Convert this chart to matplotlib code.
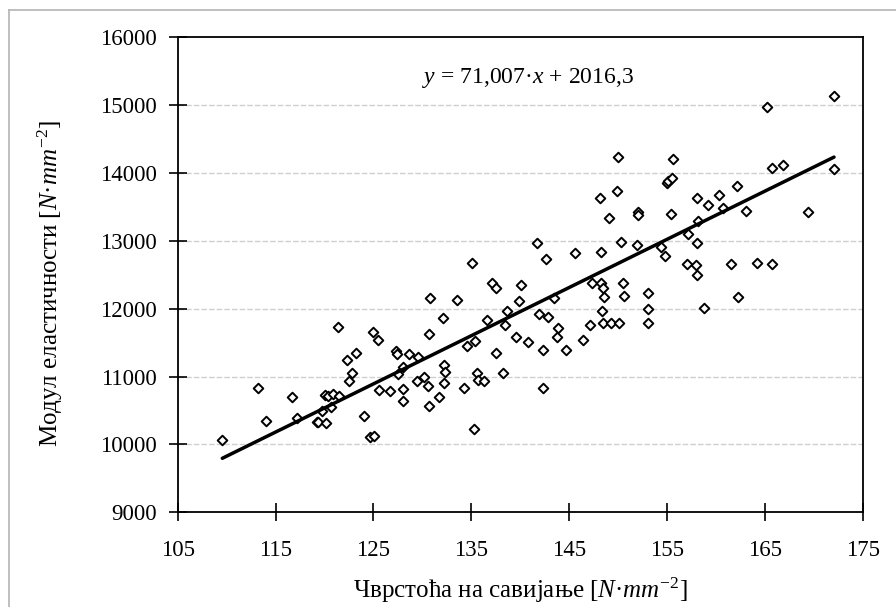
import matplotlib
matplotlib.use("Agg")
import matplotlib.pyplot as plt
from matplotlib.lines import Line2D

# ---- data ----
strength = [109.56, 113.18, 114.02, 116.68, 117.16, 119.2, 119.34, 120.15, 120.05, 120.39,
            120.84, 121.51, 119.78, 120.63, 121.35, 122.27, 123.19, 122.84, 122.5, 124.04,
            124.65, 125.09, 124.99, 125.44, 125.57, 126.66, 127.31, 127.38,
            127.55, 127.99, 128.05, 128.05, 128.64, 129.59, 129.48, 130.17, 130.61, 130.71,
            130.78, 130.71, 131.73, 132.14, 132.21, 132.31, 132.21, 133.57, 134.26, 134.6,
            135.04, 135.38, 135.31, 135.62, 135.72, 136.33, 136.58, 137.09, 137.53, 137.53,
            138.27, 138.45, 138.62, 139.54, 139.88, 140.11, 140.77, 141.69, 141.95, 142.36,
            142.36, 142.6, 142.87, 143.45, 143.83, 143.76, 144.65, 145.6, 146.39, 147.13,
            147.3, 148.22, 148.26, 148.49, 148.59, 148.33, 148.49, 149.25, 150.06, 150.3,
            150.47, 150.64,
            148.15, 149.1, 149.96, 149.92, 151.9, 152.0, 152.0, 153.06, 153.06, 153.09,
            154.36, 154.77, 154.97, 155.13, 155.48, 155.64, 155.41, 157.12, 157.07, 157.96,
            158.04, 158.1, 158.14, 158.07, 158.75, 159.19, 160.35, 160.76, 161.57, 162.15,
            162.22, 163.07, 164.17, 165.25, 165.76, 165.73, 166.89, 169.41, 172.07, 172.07]
modulus = [10061, 10832, 10350, 10704, 10390, 10327, 10327, 10316, 10733, 10710,
           10748, 10714, 10493, 10556, 11726, 11240, 11343, 11057, 10940, 10419,
           10114, 10125, 11662, 11535, 10803, 10783, 11377, 11333,
           11038, 11137, 10817, 10645, 11329, 11289, 10940, 10994, 10857, 10567,
           12154, 11632, 10695, 11859, 11171, 11072, 10901, 12124, 10832, 11451,
           12670, 11529, 10232, 11049, 10950, 10940, 11834, 12375, 12301, 11343,
           11049, 11765, 11967, 11579, 12119, 12345, 11505, 12964, 11922, 11392,
           10832, 12729, 11883, 12158, 11721, 11588, 11392, 12817, 11539, 11760,
           12375, 12841, 12375, 12301, 12178, 11967, 11785, 11785, 11785, 12988,
           12375, 12188,
           13632, 13333, 14241, 13740, 12939, 13430, 13381, 12227, 11992, 11790,
           12914, 12777, 13848, 13887, 13931, 14202, 13392, 13097, 12655, 12640,
           12497, 12964, 13289, 13627, 12007, 13533, 13672, 13485, 12655, 13809,
           12178, 13445, 12678, 14968, 12655, 14074, 14114, 13430, 15139, 14059]
slope = 71.007
intercept = 2016.3
x_ticks = [105, 115, 125, 135, 145, 155, 165, 175]
y_ticks = [9000, 10000, 11000, 12000, 13000, 14000, 15000, 16000]
equation = "$y$ = 71,007·$x$ + 2016,3"
xlabel = "Чврстоћа на савијање [$N$·$mm^{-2}$]"
ylabel = "Модул еластичности [$N$·$mm^{-2}$]"

plt.rcParams['font.family'] = ['Liberation Serif', 'DejaVu Serif']
plt.rcParams['mathtext.fontset'] = 'custom'
plt.rcParams['mathtext.rm'] = 'Liberation Serif'
plt.rcParams['mathtext.it'] = 'Liberation Serif:italic'
plt.rcParams['mathtext.bf'] = 'Liberation Serif:bold'

fig = plt.figure(figsize=(8.96, 6.07), dpi=100)
ax = fig.add_axes([177.7/896, 1-512.3/607, (862.7-177.7)/896, (512.3-37.3)/607])

# figure border (top and left visible)
fig.add_artist(Line2D([9/896, 9/896], [0, 1-10/607], transform=fig.transFigure,
                      color='#b4b4b4', lw=1.2))
fig.add_artist(Line2D([9/896, 1], [1-10/607, 1-10/607], transform=fig.transFigure,
                      color='#b4b4b4', lw=1.2))

ax.set_xlim(105, 175)
ax.set_ylim(9000, 16000)
ax.set_xticks(x_ticks)
ax.set_yticks(y_ticks)
ax.tick_params(direction='inout', length=12.5, width=1.2, labelsize=16.5, color='black')
ax.tick_params(axis='y', pad=9)
ax.tick_params(axis='x', pad=14)
for s in ax.spines.values():
    s.set_linewidth(1.3)

for yv in y_ticks[1:-1]:
    ax.axhline(yv, color='#cfcfcf', lw=1.0, ls=(0, (4, 1.5)), zorder=0)

ax.scatter(strength, modulus, marker='D', s=24, facecolors='white',
           edgecolors='black', linewidths=1.4, zorder=3)

xmin, xmax = min(strength), max(strength)
ax.plot([xmin, xmax], [slope*xmin+intercept, slope*xmax+intercept],
        color='black', lw=2.5, zorder=4, solid_capstyle='round')

ax.text(140.75, 15320, equation, ha='center', va='baseline', fontsize=17)

ax.set_xlabel(xlabel, fontsize=18, labelpad=10)
ax.set_ylabel(ylabel, fontsize=18)
ax.yaxis.set_label_coords(-0.164, 0.481)

fig.savefig("out.png", dpi=100)
